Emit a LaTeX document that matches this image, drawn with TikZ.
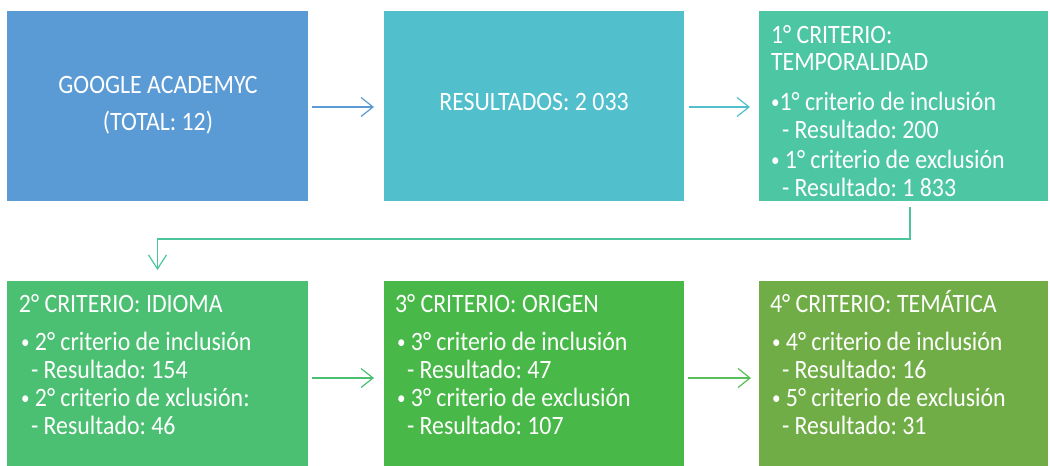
\documentclass[tikz,border=0pt]{standalone}
\usepackage{fontspec}
\setmainfont{Carlito}
\newfontfamily\boxfont[FakeStretch=0.9]{Carlito}
\usetikzlibrary{arrows.meta}
\definecolor{cA}{HTML}{5B9BD5}
\definecolor{cB}{HTML}{52BFCD}
\definecolor{cC}{HTML}{4DC6A3}
\definecolor{cD}{HTML}{4BBF72}
\definecolor{cE}{HTML}{48B848}
\definecolor{cF}{HTML}{70AD47}
\newcommand\bul{\raisebox{1.5pt}{\fontsize{19}{19}\selectfont•}}
\tikzset{
  box/.style={draw=none,inner sep=0pt,outer sep=0pt,minimum width=#1},
  toprow/.style={minimum height=190pt},
  botrow/.style={minimum height=185pt},
  txt/.style={text=white,inner sep=0pt,outer sep=0pt,anchor=base west,font=\boxfont\fontsize{26.5}{28}\selectfont\frenchspacing},
  ctxt/.style={txt,anchor=base},
  flow/.style={line width=1.2pt,-{Straight Barb[length=12pt,width=19pt,line width=1.2pt]}},
}
\begin{document}
\begin{tikzpicture}[x=1pt,y=-1pt]
\useasboundingbox (0,0) rectangle (1050,466);
% boxes
\node[box=301pt,toprow,fill=cA] (b1) at (157.5,106) {};
\node[box=300pt,toprow,fill=cB] (b2) at (534,106) {};
\node[box=289pt,toprow,fill=cC] (b3) at (903.5,106) {};
\node[box=301pt,botrow,fill=cD] (b4) at (157.5,373.5) {};
\node[box=300pt,botrow,fill=cE] (b5) at (534,373.5) {};
\node[box=289pt,botrow,fill=cF] (b6) at (903.5,373.5) {};
% connectors
\draw[flow,cA,shorten <=4pt,shorten >=10pt] ([yshift=-1pt]b1.east) -- ([yshift=-1pt]b2.west);
\draw[flow,cB,shorten <=5pt,shorten >=9pt] ([yshift=-1pt]b2.east) -- ([yshift=-1pt]b3.west);
\draw[flow,cD,shorten <=4pt,shorten >=10pt] ([yshift=-4.5pt]b4.east) -- ([yshift=-4.5pt]b5.west);
\draw[flow,cE!90!white,shorten <=4pt,shorten >=8pt] ([yshift=-4.5pt]b5.east) -- ([yshift=-4.5pt]b6.west);
\draw[flow,cC!85!cD,-{Straight Barb[length=14pt,width=18pt,line width=1.2pt]},shorten >=11pt]
  ([xshift=6.5pt,yshift=-6pt]b3.south) -- ++(0,32) -| (b4.north);
% box 1
\node[ctxt] (t1a) at (158,93) {GOOGLE ACADEMYC};
\node[ctxt] (t1b) at (158,130) {(TOTAL: 12)};
% box 2
\node[ctxt] (t2a) at (534,110) {RESULTADOS: 2 033};
% box 3
\node[txt] (t3a) at (771,43) {1° CRITERIO:};
\node[txt] (t3b) at (771,70) {TEMPORALIDAD};
\node[txt] (t3c) at (771,110) {\bul1° criterio de inclusión};
\node[txt] (t3d) at (782,138) {- Resultado: 200};
\node[txt] (t3e) at (771,168) {\bul\ 1° criterio de exclusión};
\node[txt] (t3f) at (782,196) {- Resultado: 1 833};
% box 4
\node[txt] (t4a) at (19,312) {2° CRITERIO: IDIOMA};
\node[txt] (t4b) at (21,350) {\bul\ 2° criterio de inclusión};
\node[txt] (t4c) at (31,378) {- Resultado: 154};
\node[txt] (t4d) at (21,406) {\bul\ 2° criterio de xclusión:};
\node[txt] (t4e) at (31,434) {- Resultado: 46};
% box 5
\node[txt] (t5a) at (395,312) {3° CRITERIO: ORIGEN};
\node[txt] (t5b) at (397,350) {\bul\ 3° criterio de inclusión};
\node[txt] (t5c) at (407,378) {- Resultado: 47};
\node[txt] (t5d) at (397,406) {\bul\ 3° criterio de exclusión};
\node[txt] (t5e) at (407,434) {- Resultado: 107};
% box 6
\node[txt] (t6a) at (770,312) {4° CRITERIO: TEMÁTICA};
\node[txt] (t6b) at (772,350) {\bul\ 4° criterio de inclusión};
\node[txt] (t6c) at (782,378) {- Resultado: 16};
\node[txt] (t6d) at (772,406) {\bul\ 5° criterio de exclusión};
\node[txt] (t6e) at (782,434) {- Resultado: 31};
\end{tikzpicture}
\end{document}
